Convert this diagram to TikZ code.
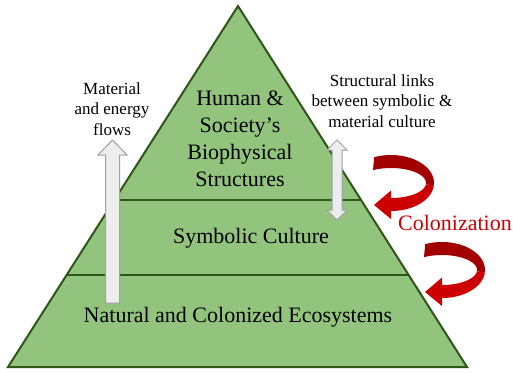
\documentclass[tikz,border=0pt]{standalone}
\usepackage{fontspec}
\setmainfont{Liberation Serif}
\usetikzlibrary{calc}

\definecolor{layergreen}{RGB}{147,196,125}
\definecolor{edgegreen}{RGB}{47,85,26}
\definecolor{flowgrey}{RGB}{237,237,237}
\definecolor{flowedge}{RGB}{160,160,160}
\definecolor{turnback}{RGB}{162,0,0}
\definecolor{turnfront}{RGB}{204,0,0}
\definecolor{labelred}{RGB}{204,0,0}

\tikzset{
  bigtext/.style={inner sep=0pt, align=center, font=\fontsize{22}{27}\selectfont},
  smalltext/.style={inner sep=0pt, align=center, font=\fontsize{17}{20.5}\selectfont},
  layerline/.style={draw=edgegreen, line width=2pt},
  blockarrow/.style={fill=flowgrey, draw=flowedge, line width=1pt, line join=miter},
  % twisted U-turn arrow, origin at the base of its head
  uturn/.pic={
    \fill[turnback]
      plot[domain=-113:5, samples=40] ({43*cos(\x)},{28*sin(\x)})
      -- plot[domain=5:-121, samples=40] ({35*cos(\x)},{15*sin(\x)})
      -- cycle;
    \fill[turnfront]
      plot[domain=5:90, samples=40] ({43*cos(\x)},{28*sin(\x)})
      -- (0,36) -- (-17,22) -- (0,7.5) -- (0,15)
      -- plot[domain=90:5, samples=40] ({35*cos(\x)},{15*sin(\x)})
      -- cycle;
  }
}

\begin{document}
\begin{tikzpicture}[x=1pt, y=-1pt]
\useasboundingbox (0,0) rectangle (513,372);

% pyramid corners
\coordinate (apex) at (238,6);
\coordinate (bl) at (8,367);
\coordinate (br) at (467,367);

\fill[layergreen] (apex) -- (bl) -- (br) -- cycle;

% layer boundaries
\coordinate (l1) at ($(bl)!0.4626!(apex)$);
\coordinate (r1) at ($(br)!0.4626!(apex)$);
\coordinate (l2) at ($(bl)!0.2548!(apex)$);
\coordinate (r2) at ($(br)!0.2548!(apex)$);
\draw[layerline] (l1) -- (r1);
\draw[layerline] (l2) -- (r2);
\draw[layerline, line join=miter] (apex) -- (bl) -- (br) -- cycle;

% material and energy flows (upward block arrow)
\draw[blockarrow] (105.5,303) -- (105.5,155) -- (98,155) -- (112.5,140)
  -- (127,155) -- (119.5,155) -- (119.5,303) -- cycle;

% structural links (double block arrow)
\draw[blockarrow] (332,150) -- (327,150) -- (337,140) -- (347,150) -- (342,150)
  -- (342,210) -- (347,210) -- (337,220) -- (327,210) -- (332,210) -- cycle;

% colonization turn arrows
\pic at (391,183) {uturn};
\pic at (442,270) {uturn};

% labels
\node[bigtext] (human) at (240,139) {Human \&\\Society's\\Biophysical\\Structures};
\node[bigtext] (symbolic) at (251,238) {Symbolic Culture};
\node[bigtext] (natural) at (238,317) {Natural and Colonized Ecosystems};
\node[bigtext, text=labelred] (colonization) at (455,223) {Colonization};
\node[smalltext] (flows) at (112,109) {Material\\and energy\\flows};
\node[smalltext] (links) at (382,101) {Structural links\\between symbolic \&\\material culture};
\end{tikzpicture}
\end{document}
